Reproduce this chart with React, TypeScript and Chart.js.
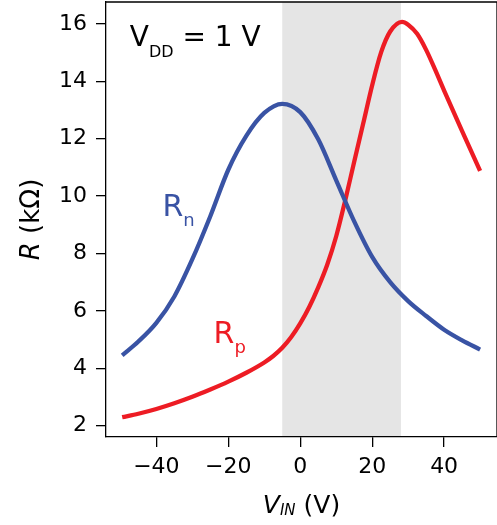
import React, { useEffect, useRef } from "react";
import { Chart, registerables } from "chart.js";

Chart.register(...registerables);

// ---- data ----
const VIN_N = [-49.5, -45, -40, -35, -30, -25, -20, -15, -10, -5, 0, 5, 10, 15, 20, 25, 30, 35, 40, 45, 50];
const RN = [4.45, 4.93, 5.58, 6.5, 7.8, 9.3, 10.92, 12.1, 12.9, 13.22, 12.93, 11.98, 10.55, 9.12, 7.88, 7.0, 6.34, 5.82, 5.34, 4.97, 4.65];
const VIN_P = [-49.5, -45, -40, -35, -30, -25, -20, -15, -10, -7.5, -5, -2.5, 0, 2.5, 5, 7.5, 10, 12.5, 15, 17.5, 20, 22.5, 25, 28.3, 30, 32.5, 35, 37.5, 40, 45, 50];
const RP = [2.29, 2.41, 2.575, 2.775, 3.0, 3.255, 3.53, 3.84, 4.2, 4.425, 4.71, 5.085, 5.56, 6.135, 6.82, 7.61, 8.6, 9.85, 11.2, 12.53, 13.87, 15.02, 15.74, 16.08, 15.98, 15.66, 15.1, 14.41, 13.68, 12.27, 10.88];
const X_TICKS = [-40, -20, 0, 20, 40];
const Y_TICKS = [2, 4, 6, 8, 10, 12, 14, 16];
const SHADE_RANGE = [-5, 28];
const X_RANGE = [-54, 54.7];
const Y_RANGE = [1.6, 16.77];

const FONT = "DejaVu Sans";
const BLUE = "#3953a4";
const RED = "#ed1c24";

type Run = { text: string; font: string; dy?: number };

function runsWidth(ctx: CanvasRenderingContext2D, runs: Run[]) {
  let w = 0;
  for (const r of runs) {
    ctx.font = r.font;
    w += ctx.measureText(r.text).width;
  }
  return w;
}

function drawRuns(ctx: CanvasRenderingContext2D, x: number, y: number, runs: Run[]) {
  for (const r of runs) {
    ctx.font = r.font;
    ctx.fillText(r.text, x, y + (r.dy || 0));
    x += ctx.measureText(r.text).width;
  }
}

const overlay = {
  id: "overlay",
  beforeDraw(chart: any) {
    const { ctx, chartArea: a, scales } = chart;
    const x0 = scales.x.getPixelForValue(SHADE_RANGE[0]);
    const x1 = scales.x.getPixelForValue(SHADE_RANGE[1]);
    ctx.save();
    ctx.fillStyle = "#e5e5e5";
    ctx.fillRect(x0, a.top, x1 - x0, a.bottom - a.top);
    ctx.restore();
  },
  afterDraw(chart: any) {
    const { ctx, chartArea: a, scales } = chart;
    const xs = scales.x;
    const ys = scales.y;
    ctx.save();
    // top and right spines
    ctx.strokeStyle = "#000";
    ctx.lineWidth = 1.3;
    ctx.beginPath();
    ctx.moveTo(a.left, a.top);
    ctx.lineTo(a.right, a.top);
    ctx.lineTo(a.right, a.bottom);
    ctx.stroke();

    ctx.textAlign = "left";
    ctx.textBaseline = "alphabetic";

    // V_DD = 1 V annotation
    ctx.fillStyle = "#000";
    drawRuns(ctx, xs.getPixelForValue(-47.4), ys.getPixelForValue(15.24), [
      { text: "V", font: `28px ${FONT}` },
      { text: "DD", font: `16px ${FONT}`, dy: 11 },
      { text: " = 1 V", font: `28px ${FONT}` },
    ]);

    // R_n label
    ctx.fillStyle = BLUE;
    drawRuns(ctx, xs.getPixelForValue(-38.3), ys.getPixelForValue(9.31), [
      { text: "R", font: `30px ${FONT}` },
      { text: "n", font: `18px ${FONT}`, dy: 10 },
    ]);

    // R_p label
    ctx.fillStyle = RED;
    drawRuns(ctx, xs.getPixelForValue(-24.1), ys.getPixelForValue(4.89), [
      { text: "R", font: `30px ${FONT}` },
      { text: "p", font: `18px ${FONT}`, dy: 10 },
    ]);

    // x-axis title
    ctx.fillStyle = "#000";
    const xRuns: Run[] = [
      { text: "V", font: `italic 25px ${FONT}` },
      { text: "IN", font: `italic 15px ${FONT}`, dy: 2 },
      { text: " (V)", font: `25px ${FONT}` },
    ];
    const xw = runsWidth(ctx, xRuns);
    drawRuns(ctx, (a.left + a.right) / 2 - xw / 2, 513, xRuns);

    // y-axis title (rotated)
    const yRuns: Run[] = [
      { text: "R", font: `italic 26px ${FONT}` },
      { text: " (kΩ)", font: `26px ${FONT}` },
    ];
    const yw = runsWidth(ctx, yRuns);
    ctx.translate(39, (a.top + a.bottom) / 2);
    ctx.rotate(-Math.PI / 2);
    drawRuns(ctx, -yw / 2, 0, yRuns);
    ctx.restore();
  },
};

export default function App() {
  const ref = useRef<HTMLCanvasElement | null>(null);

  useEffect(() => {
    if (!ref.current) return;
    const tickFont = { family: FONT, size: 22 };
    const lineStyle = {
      borderWidth: 4.3,
      borderCapStyle: "butt",
      cubicInterpolationMode: "monotone",
      pointRadius: 0,
      fill: false,
    };
    const chart = new Chart(ref.current, {
      type: "line",
      data: {
        datasets: [
          {
            label: "Rn",
            data: VIN_N.map((v, i) => ({ x: v, y: RN[i] })),
            borderColor: BLUE,
            ...lineStyle,
          },
          {
            label: "Rp",
            data: VIN_P.map((v, i) => ({ x: v, y: RP[i] })),
            borderColor: RED,
            ...lineStyle,
          },
        ],
      },
      options: {
        animation: false,
        responsive: false,
        devicePixelRatio: 1,
        layout: { padding: { top: 2, right: 0, left: 0, bottom: 0 } },
        plugins: { legend: { display: false }, tooltip: { enabled: false } },
        scales: {
          x: {
            type: "linear",
            min: X_RANGE[0],
            max: X_RANGE[1],
            afterBuildTicks: (s: any) => {
              s.ticks = X_TICKS.map((v) => ({ value: v }));
            },
            afterFit: (s: any) => {
              s.height = 88;
              s.paddingLeft = 0;
              s.paddingRight = 0;
            },
            grid: {
              drawOnChartArea: false,
              drawTicks: true,
              tickLength: 10,
              color: "#000",
              lineWidth: 1.3,
            },
            border: { display: true, color: "#000", width: 1.3 },
            ticks: {
              font: tickFont,
              color: "#000",
              padding: 7,
              maxRotation: 0,
              callback: (v: any) => String(v).replace("-", "\u2212"),
            },
          },
          y: {
            type: "linear",
            min: Y_RANGE[0],
            max: Y_RANGE[1],
            afterBuildTicks: (s: any) => {
              s.ticks = Y_TICKS.map((v) => ({ value: v }));
            },
            afterFit: (s: any) => {
              s.width = 106;
              s.paddingTop = 0;
              s.paddingBottom = 0;
            },
            grid: {
              drawOnChartArea: false,
              drawTicks: true,
              tickLength: 10,
              color: "#000",
              lineWidth: 1.3,
            },
            border: { display: true, color: "#000", width: 1.3 },
            ticks: {
              font: tickFont,
              color: "#000",
              padding: 9,
              callback: (v: any) => String(v),
            },
          },
        },
      },
      plugins: [overlay],
    } as any);
    return () => chart.destroy();
  }, []);

  return (
    <div style={{ position: "fixed", left: 0, top: 0, width: 497, height: 525, background: "#fff" }}>
      <canvas ref={ref} width={497} height={525} style={{ display: "block" }} />
    </div>
  );
}
